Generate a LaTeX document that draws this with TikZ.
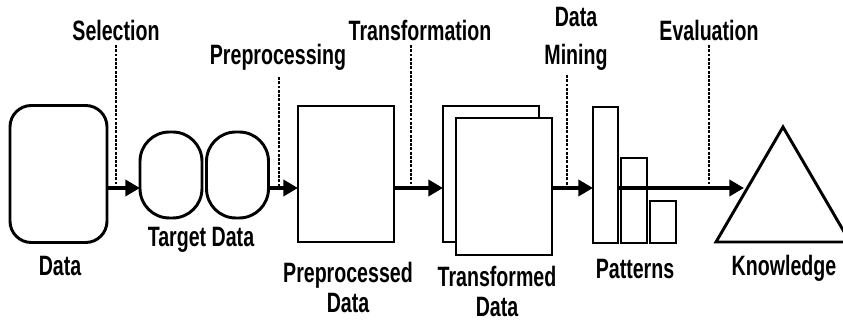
\documentclass[tikz,border=0pt]{standalone}
\usepackage{fontspec}
\newfontfamily\lblfont[FakeStretch=0.70]{Liberation Sans}
\usetikzlibrary{arrows.meta}
\begin{document}
\begin{tikzpicture}[x=0.75pt,y=-0.75pt,
  shapebox/.style={draw,line width=2.2pt,fill=white,inner sep=0pt,outer sep=0pt},
  flow/.style={line width=3pt,-{Triangle[length=11pt,width=12pt]}},
  probe/.style={line width=1.3pt,dash pattern=on 2.2pt off 1pt},
  lbl/.style={font=\lblfont\bfseries\fontsize{21}{22.5}\selectfont,align=center,inner sep=0pt}
]
\clip (0,0) rectangle (843,323);
\fill[white] (0,0) rectangle (843,323);

% shapes
\node[shapebox,rounded corners=16pt,minimum width=97*0.75pt,minimum height=137*0.75pt] (data) at (58.5,174) {};
\node[shapebox,rounded corners=22pt,minimum width=62*0.75pt,minimum height=86*0.75pt] (tg1) at (171,175) {};
\node[shapebox,rounded corners=22pt,minimum width=62*0.75pt,minimum height=86*0.75pt] (tg2) at (237.5,175) {};
\node[shapebox,minimum width=96*0.75pt,minimum height=136*0.75pt] (pre) at (346,174) {};
\node[shapebox,minimum width=96*0.75pt,minimum height=136*0.75pt] (trb) at (491,174) {};
\node[shapebox,minimum width=96*0.75pt,minimum height=137*0.75pt] (trf) at (504,186.5) {};
\node[shapebox,minimum width=25*0.75pt,minimum height=136*0.75pt] (p1) at (605.5,175) {};
\node[shapebox,minimum width=26*0.75pt,minimum height=85*0.75pt] (p2) at (634,200.5) {};
\node[shapebox,minimum width=26*0.75pt,minimum height=42*0.75pt] (p3) at (663,222) {};
\coordinate (kA) at (783,127);
\coordinate (kL) at (716,242);
\coordinate (kR) at (850,242);
\draw[line width=2.2pt,line join=miter] (kA) -- (kL) -- (kR) -- cycle;
\coordinate (know) at (744,188);

% flow arrows
\draw[flow] (data.east |- 0,188) -- (tg1.west |- 0,188);
\draw[flow] (tg2.east |- 0,188) -- (pre.west |- 0,188);
\draw[flow] (pre.east |- 0,188) -- (trb.west |- 0,188);
\draw[flow] (trf.east |- 0,188) -- (p1.west |- 0,188);
\draw[flow] (p1.east |- 0,188) -- (know);

% process probes
\coordinate (sel) at (116,45);
\coordinate (prp) at (279,77);
\coordinate (trn) at (411,45);
\coordinate (dmn) at (567,75);
\coordinate (evl) at (709,45);
\draw[probe] (sel) -- (sel |- 0,187);
\draw[probe] (prp) -- (prp |- 0,187);
\draw[probe] (trn) -- (trn |- 0,187);
\draw[probe] (dmn) -- (dmn |- 0,187);
\draw[probe] (evl) -- (evl |- 0,187);

% process labels
\node[lbl] (tsel) at (116,30) {Selection};
\node[lbl] (tprp) at (278,57) {Preprocessing};
\node[lbl] (ttrn) at (420,30) {Transformation};
\node[lbl] (tdmn) at (576,39) {Data\\[6pt]Mining};
\node[lbl] (tevl) at (709,30) {Evaluation};

% data labels
\node[lbl] (tdata) at (60,266) {Data};
\node[lbl] (ttg) at (201,240) {Target Data};
\node[lbl] (tpre) at (348,287) {Preprocessed\\Data};
\node[lbl] (ttr) at (497,291) {Transformed\\Data};
\node[lbl] (tpat) at (635,269) {Patterns};
\node[lbl] (tkn) at (784,268) {Knowledge};
\end{tikzpicture}
\end{document}
